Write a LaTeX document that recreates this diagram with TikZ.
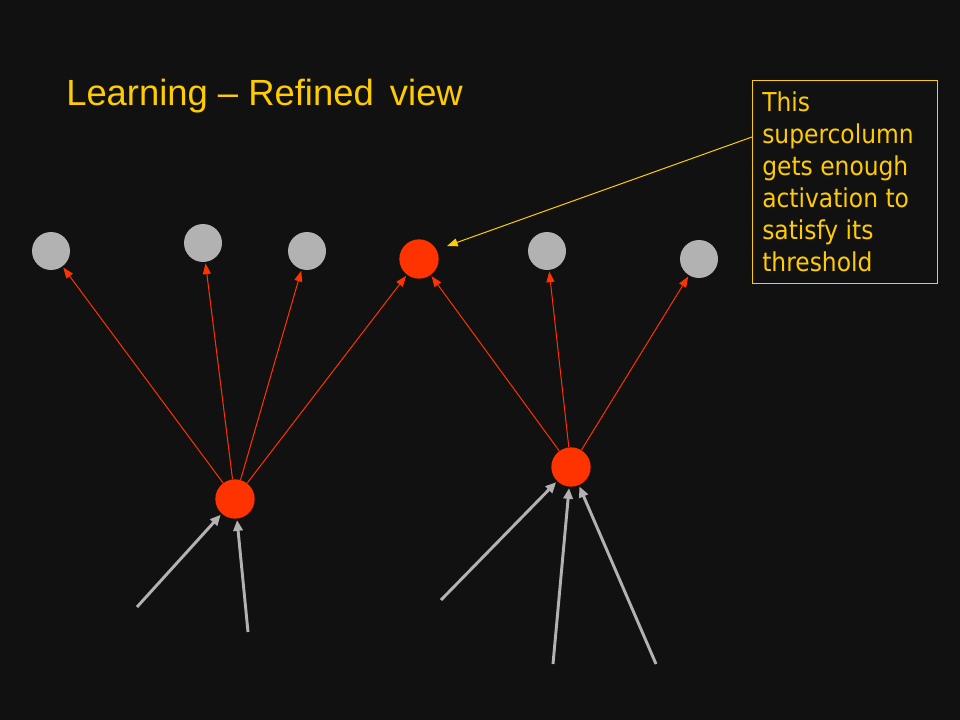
\documentclass[tikz,border=0pt]{standalone}
\usepackage{fontspec}
\setmainfont{Liberation Sans}
\newfontfamily\boxfont{DejaVu Sans Condensed}
\usetikzlibrary{arrows.meta}
\definecolor{bg}{HTML}{111111}
\definecolor{gold}{HTML}{FFCC00}
\definecolor{redn}{HTML}{FF3300}
\definecolor{grayn}{HTML}{B2B2B2}
\begin{document}
\begin{tikzpicture}[x=0.75pt,y=-0.75pt,
  graynode/.style={circle,fill=grayn,minimum size=28.5pt,inner sep=0pt},
  rednode/.style={circle,fill=redn,minimum size=29.5pt,inner sep=0pt},
  redarrow/.style={draw=redn,line width=0.75pt,-{Triangle[length=8pt,width=6pt]},shorten >=1pt},
  grayarrow/.style={draw=grayn,line width=2.2pt,-{Triangle[length=8pt,width=7pt]},shorten >=1pt},
  goldarrow/.style={draw=gold,line width=0.75pt,-{Triangle[length=8pt,width=6pt]}}]
\fill[bg] (0,0) rectangle (960,720);
\useasboundingbox (0,0) rectangle (960,720);
\node[anchor=base west,text=gold,font=\fontsize{27.3pt}{32pt}\selectfont,inner sep=0pt] (title) at (66,106) {Learning -- Refined\, view};
\node[graynode] (g1) at (51,251) {};
\node[graynode] (g2) at (203,243) {};
\node[graynode] (g3) at (307,251) {};
\node[rednode] (t) at (419,259) {};
\node[graynode] (g4) at (547,251) {};
\node[graynode] (g5) at (699,259) {};
\node[rednode] (a) at (235,499) {};
\node[rednode] (b) at (571,467) {};
\coordinate (i1) at (137,607);
\coordinate (i2) at (248,632);
\coordinate (j1) at (441,600);
\coordinate (j2) at (553,664);
\coordinate (j3) at (656,664);
\foreach \n in {g1,g2,g3,t} \draw[redarrow] (a) -- (\n);
\foreach \n in {t,g4,g5} \draw[redarrow] (b) -- (\n);
\draw[grayarrow] (i1) -- (a);
\draw[grayarrow] (i2) -- (a);
\draw[grayarrow] (j1) -- (b);
\draw[grayarrow] (j2) -- (b);
\draw[grayarrow] (j3) -- (b);
\node[draw=gold,line width=0.75pt,anchor=north west,minimum width=138.75pt,minimum height=152.25pt,inner sep=0pt] (box) at (752,80) {};
\node[anchor=north west,text=gold,inner sep=0pt,align=left,font=\boxfont\fontsize{19.5pt}{24pt}\selectfont] (boxtext) at (762,91) {This\\supercolumn\\gets enough\\activation to\\satisfy its\\threshold};
\coordinate (bp) at (752,137);
\draw[goldarrow] (bp) -- (447,246);
\end{tikzpicture}
\end{document}
